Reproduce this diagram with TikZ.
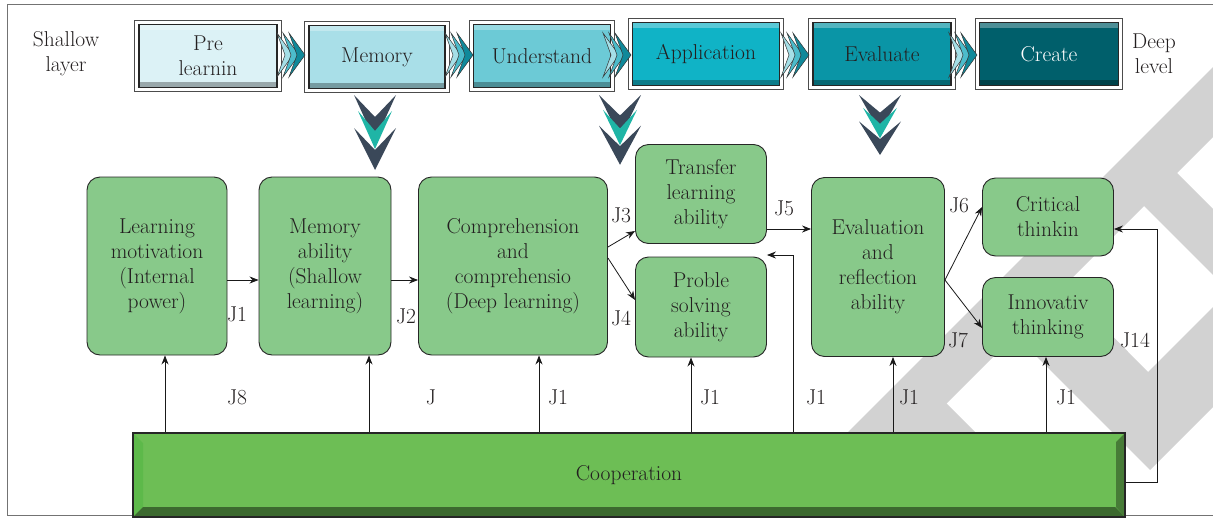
\documentclass[tikz,border=0pt]{standalone}
\usepackage{tikz}
\usetikzlibrary{arrows.meta}
\definecolor{preclr}{HTML}{DCF2F6}
\definecolor{memclr}{HTML}{A9DFE8}
\definecolor{undclr}{HTML}{6CCAD6}
\definecolor{appclr}{HTML}{10B3C6}
\definecolor{evaclr}{HTML}{0A95A6}
\definecolor{creclr}{HTML}{005F6B}
\definecolor{boxgreen}{HTML}{88C98A}
\definecolor{coopgreen}{HTML}{6DBE55}
\definecolor{coopleft}{HTML}{5DB94A}
\definecolor{chevlight}{HTML}{A5DFE7}
\definecolor{chevmid}{HTML}{4CBCCB}
\definecolor{chevdark}{HTML}{10899A}
\definecolor{vdark}{HTML}{3A4859}
\definecolor{vteal}{HTML}{1FB5A6}
\definecolor{inkclr}{HTML}{231F20}
\tikzset{
  topbox/.style={draw=black!85, line width=1.6pt, fill=#1, minimum height=63pt,
    align=center, inner sep=0pt,
    path picture={
      \fill[white, opacity=0.3] (path picture bounding box.north west) rectangle ([yshift=-5pt]path picture bounding box.north east);
      \fill[black, opacity=0.3] (path picture bounding box.south west) rectangle ([yshift=6pt]path picture bounding box.south east);}},
  gbox/.style={draw=black!85, line width=0.9pt, fill=boxgreen, rounded corners=13pt,
    align=center, inner sep=0pt},
  arr/.style={-{Stealth[length=9pt,width=7pt]}, line width=0.8pt, black!90},
  chev/.style={draw=black!80, line width=0.5pt},
}
\begin{document}
\begin{tikzpicture}[x=1pt, y=-1pt, font=\fontsize{21.5}{25}\selectfont, text=inkclr]
  \useasboundingbox (0,0) rectangle (1213,517);

  % watermark
  \fill[gray!35] (830,450) -- (900,450) -- (1213,137) -- (1213,67) -- cycle;
  \fill[gray!35] (1110,172) -- (1213,275) -- (1213,209) -- (1160,156) -- cycle;
  \fill[gray!35] (990,310) -- (1150,470) -- (1213,407) -- (1213,307) -- (1148,372) -- (1065,288) -- cycle;
  \fill[gray!35] (946,403) -- (985,442) -- (880,442) -- cycle;

  \draw[black!55, line width=0.8pt] (1213,4) -- (7,4) -- (7,515) -- (1213,515);

  % top row
  \node[align=center] (shallow) at (66,54) {Shallow\\layer};
  \node[align=center] (deep) at (1154,54) {Deep\\level};
  \node[topbox=preclr, minimum width=138pt] (pre) at (208,56) {Pre\\learnin};
  \node[topbox=memclr, minimum width=136pt] (mem) at (377,57) {Memory};
  \node[topbox=undclr, minimum width=137pt] (und) at (542,56) {Understand};
  \node[topbox=appclr, minimum width=147pt] (app) at (706,54) {Application};
  \node[topbox=evaclr, minimum width=138pt] (eva) at (882,54) {Evaluate};
  \node[topbox=creclr, minimum width=139pt, text=white] (cre) at (1049,54) {Create};
  \foreach \n in {pre,mem,und,app,eva,cre}
    \draw[black!70, line width=0.7pt] ([shift={(-3.5pt,3.5pt)}]\n.north west) rectangle ([shift={(3.5pt,-3.5pt)}]\n.south east);

  \foreach \x in {277,445,603,781,949}
    \foreach \i/\c in {0/chevlight,6/chevmid,12/chevdark}
      \filldraw[chev, fill=\c] (\x+\i,33) -- ++(16,22) -- ++(-16,22) -- ++(8,-22) -- cycle;

  \foreach \x/\s in {375/1,620/0.93,880/0.8} {
    \begin{scope}[shift={(\x,95)}, yscale=\s]
      \fill[vdark] (-21,0) -- (0,46) -- (21,0) -- (0,22) -- cycle;
      \fill[vteal] (-17,16) -- (0,54) -- (17,16) -- (0,36) -- cycle;
      \fill[vdark] (-21,33) -- (0,75) -- (21,33) -- (0,55) -- cycle;
    \end{scope}
  }

  % abilities
  \node[gbox, minimum width=140pt, minimum height=178pt] (lm) at (157,266) {Learning\\motivation\\(Internal\\power)};
  \node[gbox, minimum width=132pt, minimum height=178pt] (ma) at (325,266) {Memory\\ability\\(Shallow\\learning)};
  \node[gbox, minimum width=189pt, minimum height=178pt] (cc) at (513,266) {Comprehension\\and\\comprehensio\\(Deep learning)};
  \node[gbox, minimum width=131pt, minimum height=99pt] (tl) at (701,194) {Transfer\\learning\\ability};
  \node[gbox, minimum width=131pt, minimum height=100pt] (ps) at (701,307) {Proble\\solving\\ability};
  \node[gbox, minimum width=133pt, minimum height=179pt] (er) at (878,267) {Evaluation\\and\\reflection\\ability};
  \node[gbox, minimum width=131pt, minimum height=78pt] (ct) at (1048,217) {Critical\\thinkin};
  \node[gbox, minimum width=131pt, minimum height=79pt] (it) at (1048,317) {Innovativ\\thinking};

  \node[draw=black!85, line width=1.2pt, fill=coopgreen, minimum width=992pt, minimum height=84pt,
    path picture={
      \fill[coopleft] (path picture bounding box.north west) -- ++(10pt,-10pt) -- ([shift={(10pt,10pt)}]path picture bounding box.south west) -- (path picture bounding box.south west) -- cycle;
      \fill[coopgreen!55!black] (path picture bounding box.south west) -- ++(10pt,10pt) -- ([shift={(-10pt,10pt)}]path picture bounding box.south east) -- (path picture bounding box.south east) -- cycle;
      \fill[coopgreen!65!black] (path picture bounding box.north east) -- ++(-9pt,-9pt) -- ([shift={(-9pt,10pt)}]path picture bounding box.south east) -- (path picture bounding box.south east) -- cycle;}]
    (coop) at (629,475) {Cooperation};

  % connectors
  \draw[arr] ([yshift=-14pt]lm.east) -- ([yshift=-14pt]ma.west);
  \draw[arr] ([yshift=-14pt]ma.east) -- ([yshift=-14pt]cc.west);
  \draw[arr] ([yshift=19pt]cc.east) -- ([yshift=-37pt]tl.west);
  \draw[arr] ([yshift=8pt]cc.east) -- ([yshift=7pt]ps.west);
  \draw[arr] ([yshift=-35pt]tl.east) -- ([yshift=38pt]er.west);
  \draw[arr] ([yshift=-13pt]er.east) -- ([yshift=10pt]ct.west);
  \draw[arr] ([yshift=-13pt]er.east) -- ([yshift=-11pt]it.west);

  \coordinate (loop) at (1157,229);
  \draw[arr] ([yshift=-7pt]coop.east) -| (loop) -- (loop -| ct.east);

  \foreach \x/\n in {165/lm,369/ma,539/cc,691/ps,893/er,1046/it} {
    \coordinate (c\n) at (\x,0);
    \draw[arr] (coop.north -| c\n) -- (\n.south -| c\n);
  }
  \coordinate (bend) at (793,255);
  \draw[arr] (coop.north -| bend) -- (bend) -- (bend -| ps.east);

  % labels
  \node (j1) at (237,314) {J1};
  \node (j2) at (406,316) {J2};
  \node (j3) at (621,215) {J3};
  \node (j4) at (621,318) {J4};
  \node (j5) at (784,208) {J5};
  \node (j6) at (959,205) {J6};
  \node (j7) at (958,340) {J7};
  \node (j14) at (1135,340) {J14};
  \node (j8) at (237,397) {J8};
  \node (jj) at (431,397) {J};
  \foreach \x [count=\k] in {558,710,816,909,1066}
    \node (jb\k) at (\x,397) {J1};
\end{tikzpicture}
\end{document}
